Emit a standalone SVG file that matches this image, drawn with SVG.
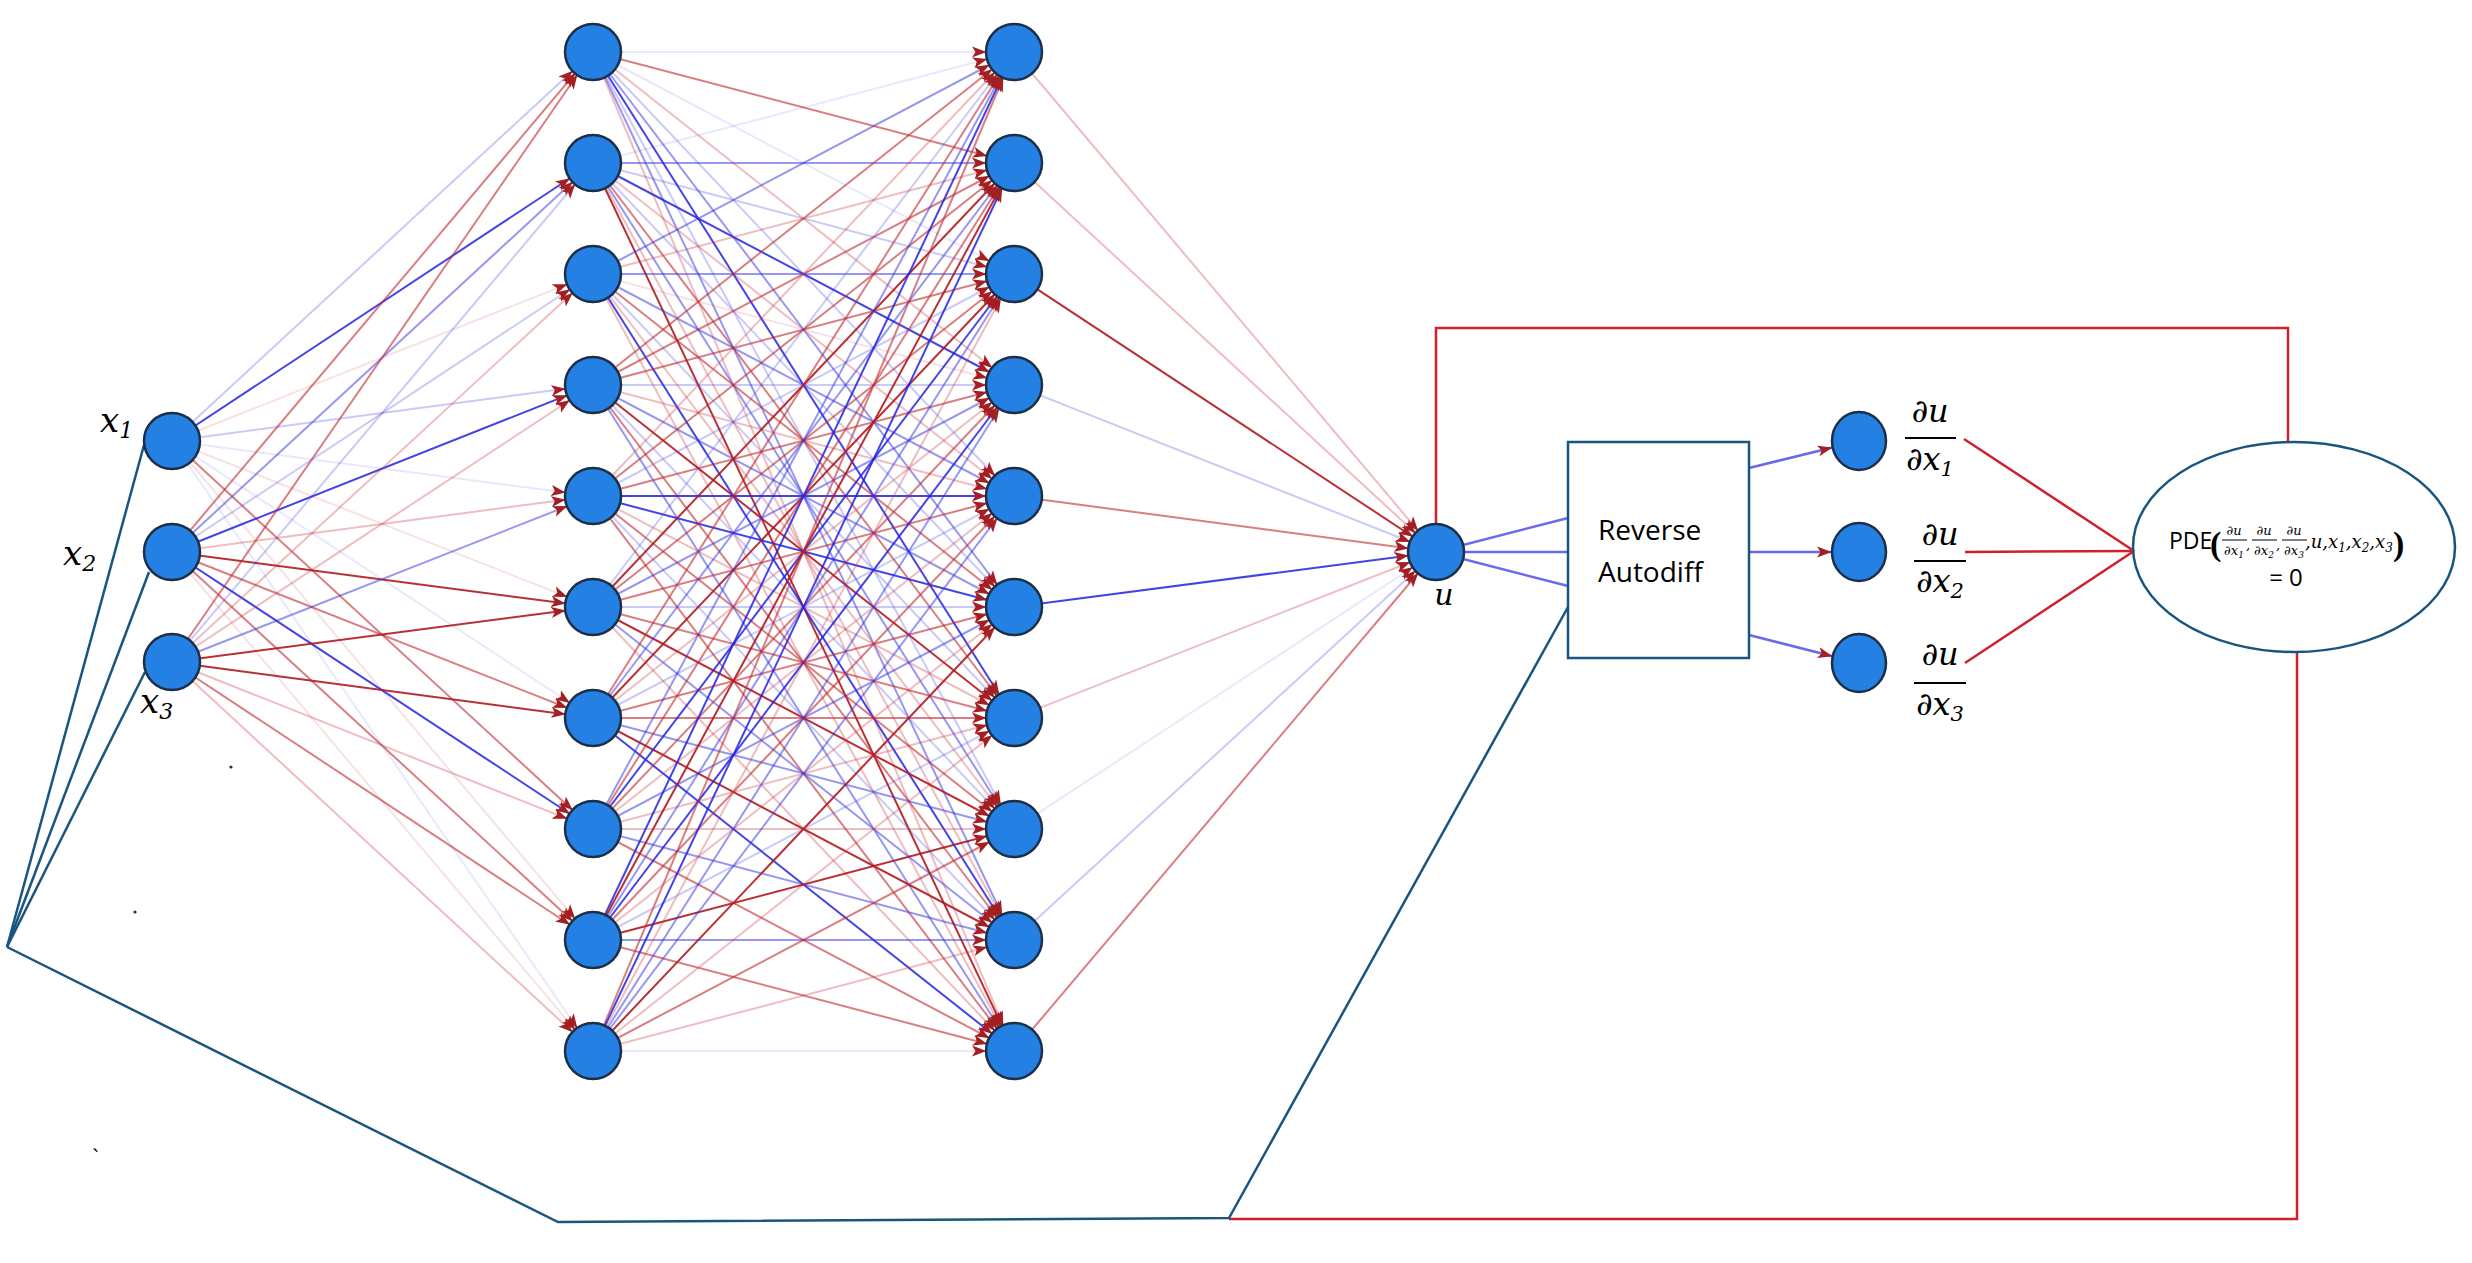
<svg xmlns="http://www.w3.org/2000/svg" width="2472" height="1263" viewBox="0 0 2472 1263">
<style>
.e{stroke-width:2;fill:none;marker-end:url(#ah)}
.R1{stroke:#b01a20;stroke-opacity:.9}
.R2{stroke:#c0282d;stroke-opacity:.6}
.R3{stroke:#c8323a;stroke-opacity:.32}
.R4{stroke:#c8323a;stroke-opacity:.14}
.B1{stroke:#2323e0;stroke-opacity:.85}
.B2{stroke:#3030e0;stroke-opacity:.5}
.B3{stroke:#4040e0;stroke-opacity:.28}
.B4{stroke:#4040e0;stroke-opacity:.12}
.n{fill:#2580e4;stroke:#1c2f46;stroke-width:2.5}
.dk{stroke:#1a5580;stroke-width:2.5;fill:none}
.rd{stroke:#d0202c;stroke-width:2.5;fill:none}
.ub{stroke:#5050e8;stroke-width:2.5;stroke-opacity:.85}
.db{stroke:#6a6ae8;stroke-width:2.5;marker-end:url(#ah)}
.m{font-family:"DejaVu Serif","Liberation Serif",serif;font-style:italic;fill:#000}
.s{font-family:"Open Sans","Liberation Sans",sans-serif;fill:#000}
.bar{stroke:#000;stroke-width:2}
</style>
<defs>
<marker id="ah" viewBox="0 0 42 12" refX="42" refY="6" markerWidth="42" markerHeight="12" markerUnits="userSpaceOnUse" orient="auto">
<path d="M0,0.5 L14.5,6 L0,11.5 L3.5,6 z" fill="#a31f22"/>
</marker>
</defs>
<rect width="2472" height="1263" fill="#fff"/>
<g id="connectors">
<!-- input to hidden1 -->
<line class="e B3" x1="172" y1="441" x2="593" y2="52"/>
<line class="e B1" x1="172" y1="441" x2="593" y2="163"/>
<line class="e R4" x1="172" y1="441" x2="593" y2="274"/>
<line class="e B3" x1="172" y1="441" x2="593" y2="385"/>
<line class="e B4" x1="172" y1="441" x2="593" y2="496"/>
<line class="e R4" x1="172" y1="441" x2="593" y2="607"/>
<line class="e B4" x1="172" y1="441" x2="593" y2="718"/>
<line class="e R2" x1="172" y1="441" x2="593" y2="829"/>
<line class="e R4" x1="172" y1="441" x2="593" y2="940"/>
<line class="e B4" x1="172" y1="441" x2="593" y2="1051"/>
<line class="e R2" x1="172" y1="552" x2="593" y2="52"/>
<line class="e B2" x1="172" y1="552" x2="593" y2="163"/>
<line class="e B3" x1="172" y1="552" x2="593" y2="274"/>
<line class="e B1" x1="172" y1="552" x2="593" y2="385"/>
<line class="e R3" x1="172" y1="552" x2="593" y2="496"/>
<line class="e R1" x1="172" y1="552" x2="593" y2="607"/>
<line class="e R2" x1="172" y1="552" x2="593" y2="718"/>
<line class="e B1" x1="172" y1="552" x2="593" y2="829"/>
<line class="e R2" x1="172" y1="552" x2="593" y2="940"/>
<line class="e R4" x1="172" y1="552" x2="593" y2="1051"/>
<line class="e R2" x1="172" y1="662" x2="593" y2="52"/>
<line class="e B3" x1="172" y1="662" x2="593" y2="163"/>
<line class="e R3" x1="172" y1="662" x2="593" y2="274"/>
<line class="e R3" x1="172" y1="662" x2="593" y2="385"/>
<line class="e B2" x1="172" y1="662" x2="593" y2="496"/>
<line class="e R1" x1="172" y1="662" x2="593" y2="607"/>
<line class="e R1" x1="172" y1="662" x2="593" y2="718"/>
<line class="e R3" x1="172" y1="662" x2="593" y2="829"/>
<line class="e R2" x1="172" y1="662" x2="593" y2="940"/>
<line class="e R3" x1="172" y1="662" x2="593" y2="1051"/>
<!-- hidden1 to hidden2 -->
<line class="e B4" x1="593" y1="52" x2="1014" y2="52"/>
<line class="e R2" x1="593" y1="52" x2="1014" y2="163"/>
<line class="e B4" x1="593" y1="52" x2="1014" y2="274"/>
<line class="e R3" x1="593" y1="52" x2="1014" y2="385"/>
<line class="e B3" x1="593" y1="52" x2="1014" y2="496"/>
<line class="e B2" x1="593" y1="52" x2="1014" y2="607"/>
<line class="e B1" x1="593" y1="52" x2="1014" y2="718"/>
<line class="e B3" x1="593" y1="52" x2="1014" y2="829"/>
<line class="e B2" x1="593" y1="52" x2="1014" y2="940"/>
<line class="e R3" x1="593" y1="52" x2="1014" y2="1051"/>
<line class="e B4" x1="593" y1="163" x2="1014" y2="52"/>
<line class="e B2" x1="593" y1="163" x2="1014" y2="163"/>
<line class="e B3" x1="593" y1="163" x2="1014" y2="274"/>
<line class="e B1" x1="593" y1="163" x2="1014" y2="385"/>
<line class="e R3" x1="593" y1="163" x2="1014" y2="496"/>
<line class="e B3" x1="593" y1="163" x2="1014" y2="607"/>
<line class="e R2" x1="593" y1="163" x2="1014" y2="718"/>
<line class="e B2" x1="593" y1="163" x2="1014" y2="829"/>
<line class="e R3" x1="593" y1="163" x2="1014" y2="940"/>
<line class="e R1" x1="593" y1="163" x2="1014" y2="1051"/>
<line class="e B2" x1="593" y1="274" x2="1014" y2="52"/>
<line class="e R3" x1="593" y1="274" x2="1014" y2="163"/>
<line class="e B2" x1="593" y1="274" x2="1014" y2="274"/>
<line class="e R4" x1="593" y1="274" x2="1014" y2="385"/>
<line class="e B2" x1="593" y1="274" x2="1014" y2="496"/>
<line class="e R2" x1="593" y1="274" x2="1014" y2="607"/>
<line class="e B3" x1="593" y1="274" x2="1014" y2="718"/>
<line class="e R3" x1="593" y1="274" x2="1014" y2="829"/>
<line class="e B1" x1="593" y1="274" x2="1014" y2="940"/>
<line class="e R3" x1="593" y1="274" x2="1014" y2="1051"/>
<line class="e R2" x1="593" y1="385" x2="1014" y2="52"/>
<line class="e R2" x1="593" y1="385" x2="1014" y2="163"/>
<line class="e R2" x1="593" y1="385" x2="1014" y2="274"/>
<line class="e B3" x1="593" y1="385" x2="1014" y2="385"/>
<line class="e R3" x1="593" y1="385" x2="1014" y2="496"/>
<line class="e B2" x1="593" y1="385" x2="1014" y2="607"/>
<line class="e R1" x1="593" y1="385" x2="1014" y2="718"/>
<line class="e B3" x1="593" y1="385" x2="1014" y2="829"/>
<line class="e R2" x1="593" y1="385" x2="1014" y2="940"/>
<line class="e B2" x1="593" y1="385" x2="1014" y2="1051"/>
<line class="e R3" x1="593" y1="496" x2="1014" y2="52"/>
<line class="e R2" x1="593" y1="496" x2="1014" y2="163"/>
<line class="e B3" x1="593" y1="496" x2="1014" y2="274"/>
<line class="e R2" x1="593" y1="496" x2="1014" y2="385"/>
<line class="e B1" x1="593" y1="496" x2="1014" y2="496"/>
<line class="e B1" x1="593" y1="496" x2="1014" y2="607"/>
<line class="e R3" x1="593" y1="496" x2="1014" y2="718"/>
<line class="e R2" x1="593" y1="496" x2="1014" y2="829"/>
<line class="e B3" x1="593" y1="496" x2="1014" y2="940"/>
<line class="e R2" x1="593" y1="496" x2="1014" y2="1051"/>
<line class="e B3" x1="593" y1="607" x2="1014" y2="52"/>
<line class="e R1" x1="593" y1="607" x2="1014" y2="163"/>
<line class="e R2" x1="593" y1="607" x2="1014" y2="274"/>
<line class="e B2" x1="593" y1="607" x2="1014" y2="385"/>
<line class="e R2" x1="593" y1="607" x2="1014" y2="496"/>
<line class="e B3" x1="593" y1="607" x2="1014" y2="607"/>
<line class="e R2" x1="593" y1="607" x2="1014" y2="718"/>
<line class="e R1" x1="593" y1="607" x2="1014" y2="829"/>
<line class="e B2" x1="593" y1="607" x2="1014" y2="940"/>
<line class="e R3" x1="593" y1="607" x2="1014" y2="1051"/>
<line class="e R2" x1="593" y1="718" x2="1014" y2="52"/>
<line class="e B2" x1="593" y1="718" x2="1014" y2="163"/>
<line class="e R1" x1="593" y1="718" x2="1014" y2="274"/>
<line class="e R3" x1="593" y1="718" x2="1014" y2="385"/>
<line class="e B3" x1="593" y1="718" x2="1014" y2="496"/>
<line class="e R2" x1="593" y1="718" x2="1014" y2="607"/>
<line class="e R2" x1="593" y1="718" x2="1014" y2="718"/>
<line class="e B2" x1="593" y1="718" x2="1014" y2="829"/>
<line class="e R1" x1="593" y1="718" x2="1014" y2="940"/>
<line class="e B1" x1="593" y1="718" x2="1014" y2="1051"/>
<line class="e B2" x1="593" y1="829" x2="1014" y2="52"/>
<line class="e R2" x1="593" y1="829" x2="1014" y2="163"/>
<line class="e B1" x1="593" y1="829" x2="1014" y2="274"/>
<line class="e R2" x1="593" y1="829" x2="1014" y2="385"/>
<line class="e R3" x1="593" y1="829" x2="1014" y2="496"/>
<line class="e B2" x1="593" y1="829" x2="1014" y2="607"/>
<line class="e R3" x1="593" y1="829" x2="1014" y2="718"/>
<line class="e R3" x1="593" y1="829" x2="1014" y2="829"/>
<line class="e B2" x1="593" y1="829" x2="1014" y2="940"/>
<line class="e R2" x1="593" y1="829" x2="1014" y2="1051"/>
<line class="e B1" x1="593" y1="940" x2="1014" y2="52"/>
<line class="e R1" x1="593" y1="940" x2="1014" y2="163"/>
<line class="e B2" x1="593" y1="940" x2="1014" y2="274"/>
<line class="e B1" x1="593" y1="940" x2="1014" y2="385"/>
<line class="e R2" x1="593" y1="940" x2="1014" y2="496"/>
<line class="e R3" x1="593" y1="940" x2="1014" y2="607"/>
<line class="e B3" x1="593" y1="940" x2="1014" y2="718"/>
<line class="e R1" x1="593" y1="940" x2="1014" y2="829"/>
<line class="e B2" x1="593" y1="940" x2="1014" y2="940"/>
<line class="e R2" x1="593" y1="940" x2="1014" y2="1051"/>
<line class="e R2" x1="593" y1="1051" x2="1014" y2="52"/>
<line class="e B1" x1="593" y1="1051" x2="1014" y2="163"/>
<line class="e R3" x1="593" y1="1051" x2="1014" y2="274"/>
<line class="e B2" x1="593" y1="1051" x2="1014" y2="385"/>
<line class="e B2" x1="593" y1="1051" x2="1014" y2="496"/>
<line class="e R1" x1="593" y1="1051" x2="1014" y2="607"/>
<line class="e R3" x1="593" y1="1051" x2="1014" y2="718"/>
<line class="e R2" x1="593" y1="1051" x2="1014" y2="829"/>
<line class="e R3" x1="593" y1="1051" x2="1014" y2="940"/>
<line class="e B4" x1="593" y1="1051" x2="1014" y2="1051"/>
<!-- hidden2 to u -->
<line class="e R3" x1="1014" y1="52" x2="1436" y2="552"/>
<line class="e R3" x1="1014" y1="163" x2="1436" y2="552"/>
<line class="e R1" x1="1014" y1="274" x2="1436" y2="552"/>
<line class="e B3" x1="1014" y1="385" x2="1436" y2="552"/>
<line class="e R2" x1="1014" y1="496" x2="1436" y2="552"/>
<line class="e B1" x1="1014" y1="607" x2="1436" y2="552"/>
<line class="e R3" x1="1014" y1="718" x2="1436" y2="552"/>
<line class="e B4" x1="1014" y1="829" x2="1436" y2="552"/>
<line class="e B3" x1="1014" y1="940" x2="1436" y2="552"/>
<line class="e R2" x1="1014" y1="1051" x2="1436" y2="552"/>
<!-- u to autodiff box -->
<line class="ub" x1="1436" y1="552" x2="1568" y2="518"/>
<line class="ub" x1="1436" y1="552" x2="1568" y2="552"/>
<line class="ub" x1="1436" y1="552" x2="1568" y2="586"/>
<!-- box to derivative nodes -->
<line class="db" x1="1749" y1="468" x2="1859" y2="441"/>
<line class="db" x1="1749" y1="552" x2="1859" y2="552"/>
<line class="db" x1="1749" y1="635" x2="1859" y2="663"/>
<!-- derivatives to PDE -->
<line class="rd" x1="1964" y1="439" x2="2134" y2="551"/>
<line class="rd" x1="1965" y1="552" x2="2134" y2="551"/>
<line class="rd" x1="1965" y1="663" x2="2134" y2="551"/>
<!-- loops -->
<path class="rd" d="M1436,524 V328 H2288 V443"/>
<path class="rd" d="M2297,651 V1219 H1229"/>
<path class="dk" d="M1568,607 L1229,1218 L558,1222 L7,947"/>
<line class="dk" x1="7" y1="947" x2="144" y2="445"/>
<line class="dk" x1="7" y1="947" x2="149" y2="572"/>
<line class="dk" x1="7" y1="947" x2="145" y2="672"/>
</g>
<g id="input-x1"><circle class="n" cx="172" cy="441" r="28"/><text class="m" x="100" y="432" font-size="34">x<tspan font-size="22" dy="6">1</tspan></text></g>
<g id="input-x2"><circle class="n" cx="172" cy="552" r="28"/><text class="m" x="63" y="565" font-size="34">x<tspan font-size="22" dy="6">2</tspan></text></g>
<g id="input-x3"><circle class="n" cx="172" cy="662" r="28"/><text class="m" x="140" y="713" font-size="34">x<tspan font-size="22" dy="6">3</tspan></text></g>
<g id="h1-1"><circle class="n" cx="593" cy="52" r="28"/></g>
<g id="h1-2"><circle class="n" cx="593" cy="163" r="28"/></g>
<g id="h1-3"><circle class="n" cx="593" cy="274" r="28"/></g>
<g id="h1-4"><circle class="n" cx="593" cy="385" r="28"/></g>
<g id="h1-5"><circle class="n" cx="593" cy="496" r="28"/></g>
<g id="h1-6"><circle class="n" cx="593" cy="607" r="28"/></g>
<g id="h1-7"><circle class="n" cx="593" cy="718" r="28"/></g>
<g id="h1-8"><circle class="n" cx="593" cy="829" r="28"/></g>
<g id="h1-9"><circle class="n" cx="593" cy="940" r="28"/></g>
<g id="h1-10"><circle class="n" cx="593" cy="1051" r="28"/></g>
<g id="h2-1"><circle class="n" cx="1014" cy="52" r="28"/></g>
<g id="h2-2"><circle class="n" cx="1014" cy="163" r="28"/></g>
<g id="h2-3"><circle class="n" cx="1014" cy="274" r="28"/></g>
<g id="h2-4"><circle class="n" cx="1014" cy="385" r="28"/></g>
<g id="h2-5"><circle class="n" cx="1014" cy="496" r="28"/></g>
<g id="h2-6"><circle class="n" cx="1014" cy="607" r="28"/></g>
<g id="h2-7"><circle class="n" cx="1014" cy="718" r="28"/></g>
<g id="h2-8"><circle class="n" cx="1014" cy="829" r="28"/></g>
<g id="h2-9"><circle class="n" cx="1014" cy="940" r="28"/></g>
<g id="h2-10"><circle class="n" cx="1014" cy="1051" r="28"/></g>
<g id="output-u"><circle class="n" cx="1436" cy="552" r="28"/><text class="m" x="1444" y="605" font-size="30" text-anchor="middle">u</text></g>
<g id="autodiff"><rect x="1568" y="442" width="181" height="216" fill="#fff" class="dk"/><text class="s" x="1598" y="540" font-size="28">Reverse</text><text class="s" x="1598" y="582" font-size="28">Autodiff</text></g>
<g id="du-dx1"><ellipse class="n" cx="1859" cy="441" rx="27" ry="29"/>
<text class="m" x="1930" y="422" font-size="32" text-anchor="middle">∂u</text><line class="bar" x1="1905" y1="438" x2="1956" y2="438"/><text class="m" x="1930" y="470" font-size="32" text-anchor="middle">∂x<tspan font-size="21" dy="6">1</tspan></text></g>
<g id="du-dx2"><ellipse class="n" cx="1859" cy="552" rx="27" ry="29"/>
<text class="m" x="1940" y="545" font-size="32" text-anchor="middle">∂u</text><line class="bar" x1="1914" y1="561" x2="1966" y2="561"/><text class="m" x="1940" y="592" font-size="32" text-anchor="middle">∂x<tspan font-size="21" dy="6">2</tspan></text></g>
<g id="du-dx3"><ellipse class="n" cx="1859" cy="663" rx="27" ry="29"/>
<text class="m" x="1940" y="665" font-size="32" text-anchor="middle">∂u</text><line class="bar" x1="1914" y1="683" x2="1966" y2="683"/><text class="m" x="1940" y="715" font-size="32" text-anchor="middle">∂x<tspan font-size="21" dy="6">3</tspan></text></g>
<g id="pde"><ellipse cx="2294" cy="547" rx="161" ry="105" fill="#fff" class="dk"/>
<text class="s" x="2169" y="549" font-size="23">PDE</text>
<text x="2210" y="555" font-size="34" font-family="Liberation Serif,serif" font-weight="bold">(</text>
<text class="m" x="2234" y="535" font-size="13" text-anchor="middle">∂u</text><line x1="2222" y1="540" x2="2247" y2="540" stroke="#000" stroke-width="1"/><text class="m" x="2234" y="555" font-size="13" text-anchor="middle">∂x<tspan font-size="9" dy="3">1</tspan></text><text class="m" x="2246" y="549" font-size="13">,</text>
<text class="m" x="2264" y="535" font-size="13" text-anchor="middle">∂u</text><line x1="2252" y1="540" x2="2277" y2="540" stroke="#000" stroke-width="1"/><text class="m" x="2264" y="555" font-size="13" text-anchor="middle">∂x<tspan font-size="9" dy="3">2</tspan></text><text class="m" x="2276" y="549" font-size="13">,</text>
<text class="m" x="2294" y="535" font-size="13" text-anchor="middle">∂u</text><line x1="2282" y1="540" x2="2307" y2="540" stroke="#000" stroke-width="1"/><text class="m" x="2294" y="555" font-size="13" text-anchor="middle">∂x<tspan font-size="9" dy="3">3</tspan></text>
<text class="m" x="2305" y="548" font-size="18">,u,x<tspan font-size="12" dy="4">1</tspan><tspan dy="-4">,x</tspan><tspan font-size="12" dy="4">2</tspan><tspan dy="-4">,x</tspan><tspan font-size="12" dy="4">3</tspan></text>
<text x="2393" y="555" font-size="34" font-family="Liberation Serif,serif" font-weight="bold">)</text>
<text class="s" x="2286" y="586" font-size="24" text-anchor="middle">= 0</text></g>
<circle cx="231" cy="767" r="1.6" fill="#1a3550"/>
<circle cx="135" cy="912" r="1.6" fill="#1a3550"/>
<text x="92" y="1165" font-size="22" font-family="Liberation Sans,sans-serif" fill="#000">`</text>
</svg>
